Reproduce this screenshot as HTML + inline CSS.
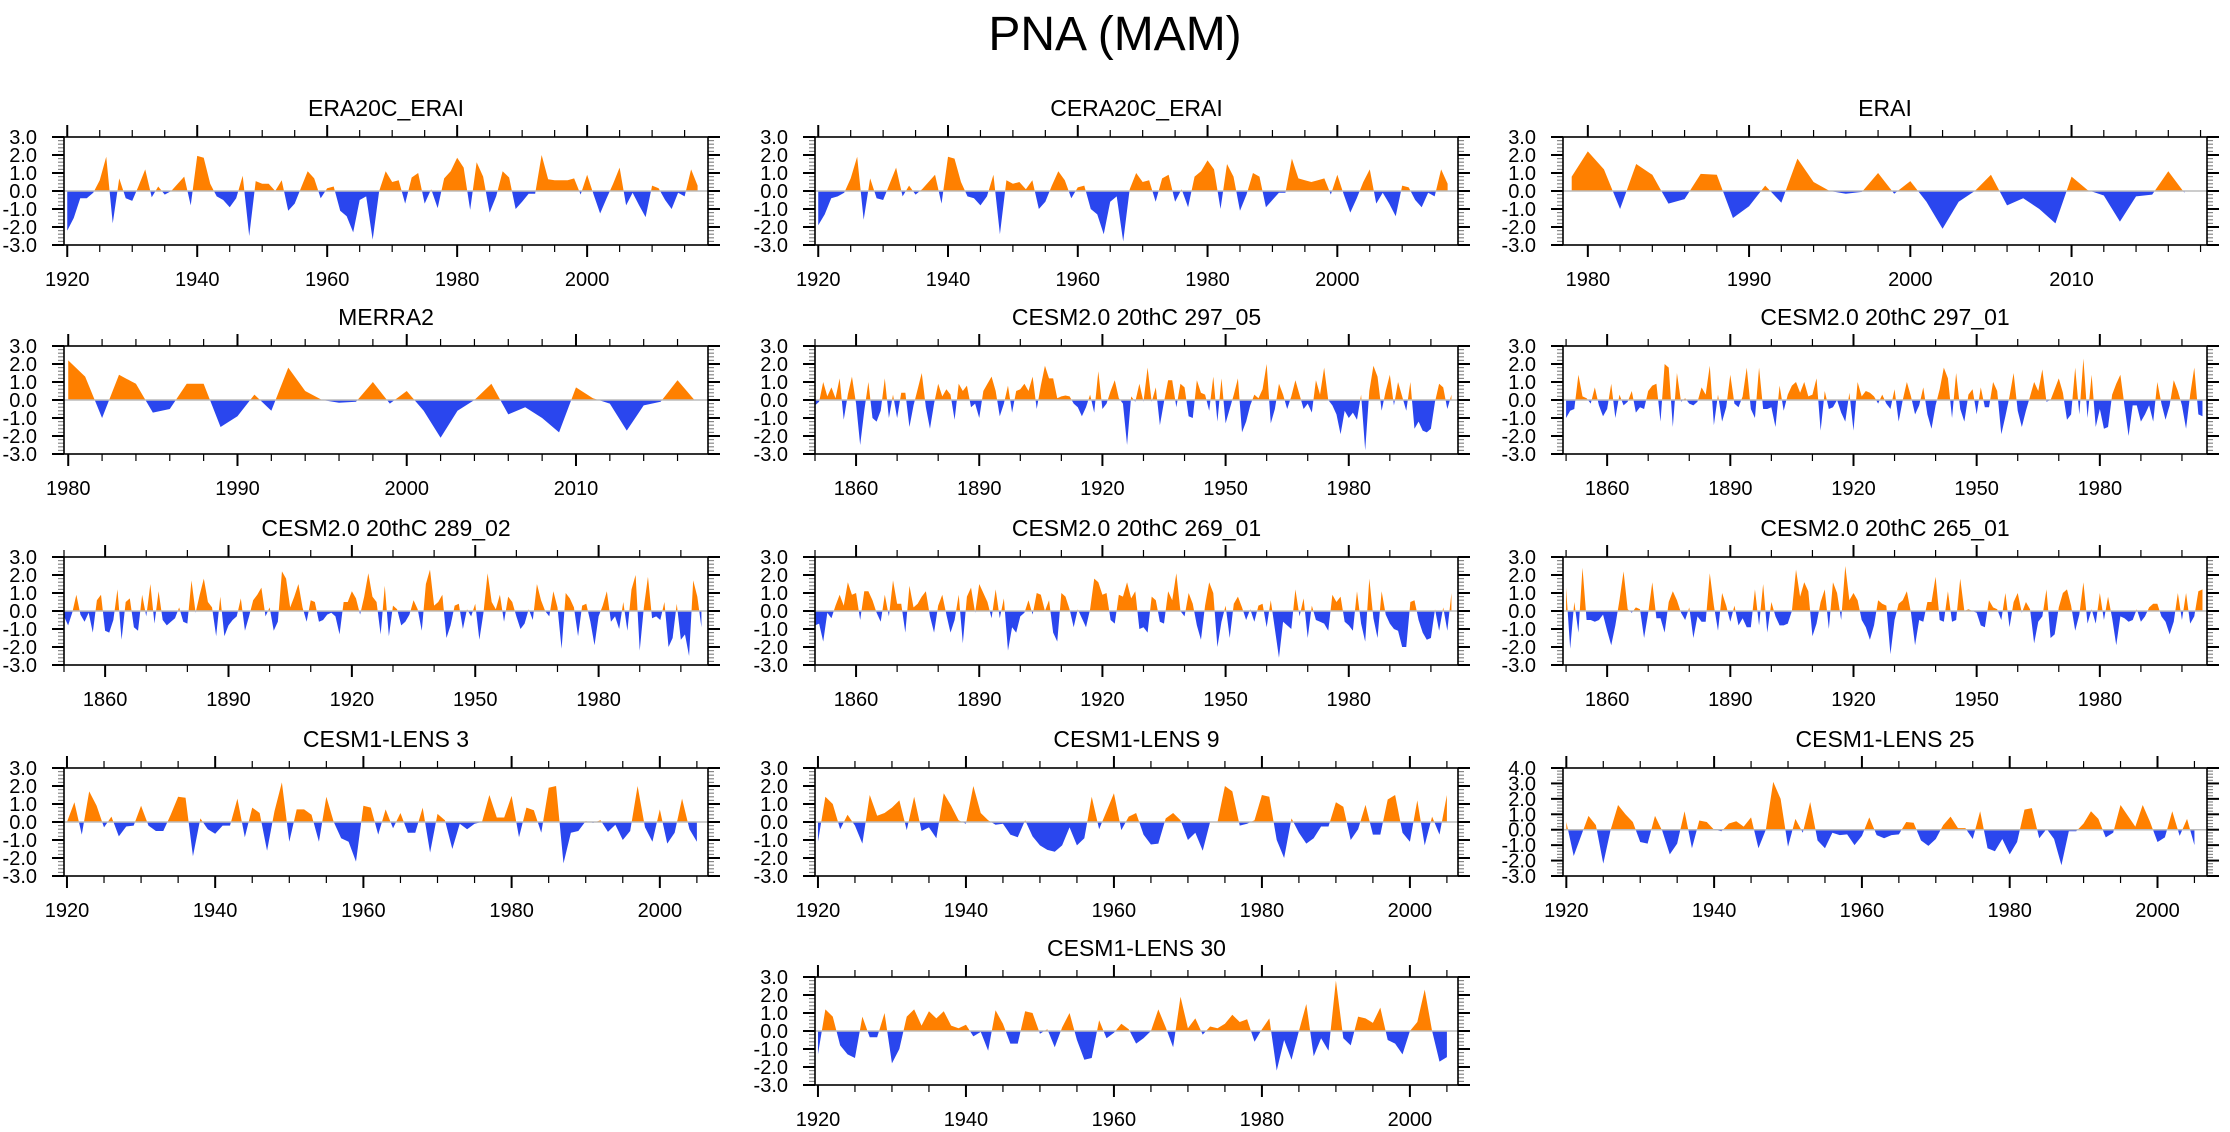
<!DOCTYPE html>
<html><head><meta charset="utf-8"><style>
html,body{margin:0;padding:0;background:#fff;}
svg{display:block;font-family:"Liberation Sans",Arial,sans-serif;}
</style></head><body>
<svg id="fig" width="2230" height="1132" viewBox="0 0 2230 1132" xmlns="http://www.w3.org/2000/svg">
<rect width="2230" height="1132" fill="#fff"/>
<text x="1115" y="50" font-size="48" text-anchor="middle">PNA (MAM)</text>
</svg>
<script>
const era20c=[-2.2,-1.5,-0.4,-0.4,-0.1,0.6,1.9,-1.8,0.7,-0.4,-0.55,0.3,1.2,-0.35,0.25,-0.2,0.0,0.4,0.8,-0.8,1.95,1.85,0.4,-0.3,-0.5,-0.9,-0.4,0.85,-2.5,0.55,0.4,0.4,0.0,0.6,-1.1,-0.7,0.2,1.1,0.7,-0.4,0.15,0.25,-1.1,-1.4,-2.3,-0.5,-0.3,-2.7,0.0,1.1,0.5,0.6,-0.7,0.75,1.0,-0.7,0.1,-0.95,0.7,1.1,1.85,1.3,-1.05,1.6,0.8,-1.2,-0.3,1.1,0.75,-1.0,-0.6,-0.15,-0.15,2.0,0.65,0.6,0.6,0.6,0.7,-0.2,0.9,-0.2,-1.25,-0.4,0.4,1.3,-0.8,-0.1,-0.8,-1.45,0.3,0.15,-0.5,-1.0,-0.1,-0.3,1.2,0.3];
const cera20c=[-1.9,-1.3,-0.4,-0.3,-0.1,0.7,1.9,-1.6,0.7,-0.4,-0.5,0.4,1.3,-0.3,0.3,-0.2,0.1,0.5,0.9,-0.7,1.9,1.8,0.5,-0.3,-0.4,-0.8,-0.3,0.9,-2.4,0.6,0.4,0.5,0.1,0.6,-1.0,-0.6,0.3,1.1,0.6,-0.4,0.2,0.3,-1.0,-1.3,-2.4,-0.6,-0.3,-2.8,0.1,1.0,0.5,0.6,-0.6,0.7,0.9,-0.6,0.1,-0.9,0.8,1.1,1.7,1.2,-1.0,1.5,0.8,-1.1,-0.2,1.0,0.8,-0.9,-0.5,-0.1,-0.1,1.8,0.7,0.6,0.5,0.6,0.7,-0.2,0.9,-0.2,-1.2,-0.4,0.5,1.2,-0.7,-0.1,-0.7,-1.4,0.3,0.2,-0.5,-0.9,-0.1,-0.3,1.2,0.4];
const erai=[0.8,2.2,1.2,-1.0,1.5,0.9,-0.7,-0.45,0.95,0.9,-1.5,-0.85,0.3,-0.65,1.8,0.5,0.0,-0.15,-0.05,1.0,-0.15,0.55,-0.6,-2.1,-0.6,0.0,0.9,-0.8,-0.4,-1.0,-1.8,0.8,0.05,-0.25,-1.7,-0.3,-0.2,1.1,-0.1];
const merra2=[2.2,1.3,-1.0,1.4,0.9,-0.7,-0.5,0.9,0.9,-1.5,-0.9,0.3,-0.6,1.8,0.5,0.0,-0.15,-0.1,1.0,-0.2,0.5,-0.6,-2.1,-0.6,0.0,0.9,-0.8,-0.4,-1.0,-1.8,0.7,0.1,-0.2,-1.7,-0.3,-0.1,1.1,0.0];
const c297_05=[-0.3,-0.1,1.0,0.2,0.7,0.1,1.2,-1.1,0.3,1.3,-0.2,-2.5,-0.6,1.0,-1.0,-1.2,-0.6,1.2,-1.0,0.3,-1.0,0.4,0.4,-1.5,-0.3,0.6,1.5,-0.4,-1.6,-0.2,0.9,0.2,0.6,0.3,-1.1,0.9,0.5,0.8,-0.4,-0.2,-1.0,0.5,0.9,1.3,0.5,-0.9,-0.2,0.8,-0.7,0.5,0.6,0.9,0.5,1.3,-0.5,0.8,1.9,1.2,1.2,0.1,0.2,0.25,0.2,-0.2,-0.4,-0.9,-0.4,0.3,-0.7,1.6,-0.5,-0.2,0.5,1.1,0.1,-0.2,-2.5,0.2,-0.1,0.9,-0.1,1.8,-0.1,0.7,-1.4,-0.1,1.1,1.1,-0.4,0.9,0.7,-0.9,-1.0,1.1,0.4,0.3,-0.6,1.3,-1.2,1.2,-1.3,-0.5,0.3,1.2,-1.8,-1.2,-0.3,0.3,0.1,0.6,2.0,-1.3,-0.5,0.9,0.3,-0.5,0.2,1.1,0.3,-0.5,-0.2,-0.7,1.1,0.3,1.8,0.0,-0.3,-0.8,-1.9,-0.6,-1.0,-0.7,-1.1,0.3,-2.8,0.5,1.9,1.3,-0.6,0.5,1.4,-0.3,1.0,0.2,-0.6,1.0,-1.6,-1.2,-1.7,-1.8,-1.6,-0.1,0.9,0.7,-0.5,0.3];
const c297_01=[-1.0,-0.6,-0.5,1.4,0.2,0.1,-0.2,0.7,-0.3,-0.9,-0.5,0.9,-1.0,0.3,-0.3,-0.1,0.5,-0.7,-0.4,-0.5,0.5,0.8,0.9,-1.2,2.0,1.8,-1.5,1.5,-0.1,0.1,-0.2,-0.3,-0.1,0.7,0.3,1.9,-1.4,0.3,-1.2,-0.4,1.4,-0.2,-0.4,0.2,1.8,-0.5,-1.0,1.8,-0.5,-0.5,-0.4,-1.5,0.8,-0.6,0.3,0.8,1.0,0.4,1.0,0.2,0.3,1.2,-1.7,0.5,-0.5,-0.4,0.0,-0.7,-1.2,0.4,-1.7,1.0,0.2,0.5,0.4,0.2,-0.2,0.3,-0.2,-0.5,0.6,-1.2,0.0,1.0,0.2,-0.8,-0.3,0.7,-0.8,-1.6,-0.3,0.6,1.8,1.2,-1.0,1.5,-0.5,-1.2,0.3,0.6,-0.8,0.7,-0.4,-0.4,1.0,0.5,-1.9,-0.9,0.2,1.5,-0.6,-1.5,-0.6,0.2,1.0,0.5,1.7,-0.1,0.0,0.6,1.2,0.4,-1.1,-0.8,1.8,-0.8,2.3,-1.0,1.4,-1.5,-0.5,-1.6,-1.5,0.3,0.9,1.4,-0.3,-2.0,-0.3,-0.3,-1.2,-0.8,-0.3,-1.2,1.0,-0.2,-1.1,-0.3,1.1,0.5,-0.3,-1.6,0.3,1.8,-0.8,-0.9];
const c289_02=[-0.3,-0.8,-0.1,0.9,-0.2,-0.6,-0.1,-1.2,0.6,0.9,-1.1,-1.2,-0.5,1.2,-1.6,0.5,0.7,-0.9,-1.1,0.9,-0.3,1.5,-0.7,1.1,-0.5,-0.8,-0.6,-0.4,0.2,-0.6,-0.7,1.7,-0.1,0.9,1.8,0.5,0.2,-1.4,0.8,-1.4,-0.8,-0.5,-0.3,0.7,-1.1,-0.3,0.6,0.9,1.3,-0.3,0.2,-1.1,-0.6,2.2,1.8,0.2,0.8,1.5,0.2,-0.6,0.6,0.5,-0.6,-0.5,-0.2,-0.1,-0.3,-1.3,0.5,0.5,1.1,0.7,-0.2,0.8,2.1,0.8,0.5,-1.3,1.4,-1.4,0.3,0.1,-0.8,-0.6,-0.2,0.6,0.1,-1.1,1.5,2.3,0.3,0.5,0.9,-1.5,-0.8,0.3,0.4,-1.0,0.1,-0.3,0.4,-1.6,-0.1,2.1,0.5,0.1,0.9,-0.6,0.8,0.5,-0.3,-1.0,-0.7,0.1,-0.5,1.5,0.6,0.0,-0.3,1.1,0.2,-2.1,1.0,0.7,0.2,-1.4,0.3,0.4,-0.6,-1.9,-0.3,0.3,1.1,-0.6,-0.3,-1.0,0.5,-1.1,1.2,2.0,-2.2,0.2,1.9,-0.4,-0.3,-0.5,0.5,-2.0,-1.5,0.4,-1.6,-1.3,-2.5,1.7,0.8,-0.9];
const c269_01=[-0.8,-0.7,-1.7,-0.1,-0.4,0.3,0.9,0.3,1.6,0.9,1.0,-0.5,1.1,1.1,0.6,-0.1,-0.6,0.9,-0.3,1.7,0.4,0.4,-1.2,1.4,0.2,0.4,0.8,1.1,-0.3,-1.2,0.3,0.9,-0.2,-1.2,-0.5,0.9,-1.8,0.8,1.3,-0.1,1.5,1.0,0.5,-0.4,1.2,-0.4,0.7,-2.2,-0.9,-1.2,-0.3,-0.1,0.6,-0.2,1.0,0.9,0.0,0.6,-1.2,-1.7,1.0,0.8,0.1,-0.9,0.1,-0.4,-0.9,0.1,1.8,1.6,0.9,1.0,-0.5,-0.7,0.9,0.8,1.6,0.7,1.1,-1.0,-0.9,-1.2,0.8,0.6,-0.6,-0.7,1.1,0.6,2.1,0.0,-0.3,1.0,0.4,-0.8,-1.6,0.3,1.6,1.0,-2.0,-0.6,0.3,-1.5,0.4,0.8,0.2,-0.5,0.1,-0.6,0.3,0.4,-0.9,0.6,-1.0,-2.6,-0.6,-0.8,-1.0,1.2,-0.3,0.7,-1.5,0.3,-0.5,-0.6,-0.7,-1.1,0.9,0.5,0.8,-0.6,-0.8,-1.1,1.1,-0.7,-1.7,1.8,-0.4,-1.5,1.1,-0.2,-0.7,-1.0,-1.1,-2.0,-2.0,0.5,0.6,-0.5,-1.2,-1.6,-1.5,0.1,-1.1,0.2,-1.1,1.0];
const c265_01=[1.3,-2.1,0.5,-1.2,2.4,-0.5,-0.5,-0.6,-0.5,-0.2,-1.1,-1.9,-0.8,0.6,2.2,0.1,-0.1,0.2,0.1,-1.5,-0.1,1.6,-0.4,-0.4,-1.2,0.5,1.1,0.6,-0.1,-0.5,0.2,-1.5,-0.3,-0.6,-0.6,2.1,0.3,-1.1,1.0,0.3,-0.6,0.3,-0.8,-0.4,-0.9,-0.9,1.2,-0.8,1.5,-1.2,0.5,-0.3,-0.8,-0.8,-0.7,0.0,2.3,0.8,1.6,1.1,-1.4,-0.7,0.5,1.2,-1.0,1.6,1.0,-0.5,2.5,0.6,1.0,0.6,-0.5,-0.9,-1.6,-0.8,0.6,0.4,0.3,-2.4,-0.5,0.4,0.6,1.1,-0.1,-1.9,-0.5,-0.6,0.5,0.5,1.9,-0.5,-0.6,1.1,-0.6,-0.5,1.8,0.0,0.1,0.0,-0.1,-0.8,-0.9,0.6,0.2,0.1,-0.5,1.0,-0.9,0.5,1.0,-0.1,0.5,0.1,-1.8,-0.6,-0.3,1.2,-1.5,-1.3,0.2,1.0,1.2,0.3,-1.1,-0.2,1.6,-0.7,0.1,-0.7,1.0,-0.5,0.8,-0.4,-1.9,-0.3,-0.4,-0.6,-0.5,0.1,-0.6,-0.3,0.2,0.4,0.4,-0.3,-0.6,-1.3,-0.6,1.0,-0.5,1.0,-0.7,-0.3,1.1,1.2];
const lens3=[0.0,1.1,-0.7,1.7,0.9,-0.3,0.3,-0.8,-0.25,-0.2,0.9,-0.2,-0.5,-0.5,0.4,1.4,1.35,-1.9,0.2,-0.4,-0.65,-0.2,-0.2,1.3,-0.85,0.8,0.5,-1.6,0.6,2.2,-1.1,0.7,0.7,0.4,-1.1,1.4,0.0,-0.9,-1.1,-2.2,0.9,0.8,-0.7,0.7,-0.35,0.5,-0.6,-0.6,0.8,-1.7,0.45,0.1,-1.5,-0.1,-0.4,-0.1,0.0,1.5,0.25,0.25,1.45,-0.85,0.8,0.65,-0.6,1.9,2.0,-2.3,-0.6,-0.5,0.05,-0.05,0.1,-0.55,-0.15,-1.0,-0.5,2.0,-0.3,-1.1,0.7,-1.2,-0.6,1.3,-0.4,-1.1];
const lens9=[-1.1,1.4,1.0,-0.4,0.4,-0.2,-1.2,1.5,0.35,0.5,0.8,1.2,-0.45,1.4,-0.5,-0.3,-0.9,1.6,0.9,0.1,-0.1,2.0,0.5,0.1,-0.15,-0.1,-0.7,-0.85,0.1,-0.8,-1.3,-1.55,-1.65,-1.3,-0.3,-1.3,-0.9,1.4,-0.4,0.6,1.6,-0.45,0.3,0.5,-0.7,-1.25,-1.2,0.2,0.5,0.1,-1.0,-0.6,-1.6,0.0,0.0,2.0,1.7,-0.2,-0.1,0.1,1.5,1.4,-1.0,-2.0,0.2,-0.6,-1.2,-0.9,-0.25,-0.25,1.1,0.85,-1.0,-0.4,0.95,-0.7,-0.7,1.25,1.5,-0.6,-1.1,1.2,-1.3,0.3,-0.7,1.5];
const lens25=[0.5,-1.7,-0.4,0.9,0.3,-2.2,0.0,1.6,1.0,0.5,-0.8,-0.9,0.9,-0.1,-1.6,-0.9,1.2,-1.2,0.6,0.5,0.0,-0.1,0.4,0.55,0.2,0.8,-1.2,0.0,3.1,2.0,-1.1,0.7,-0.2,1.8,-0.7,-1.2,-0.2,-0.35,-0.3,-1.0,-0.4,0.8,-0.35,-0.55,-0.35,-0.3,0.5,0.45,-0.7,-1.05,-0.6,0.3,0.85,0.1,0.1,-0.6,1.2,-1.2,-1.4,-0.6,-1.6,-0.8,1.3,1.4,-0.55,0.05,-0.6,-2.3,-0.1,-0.1,0.4,1.2,0.7,-0.5,-0.2,1.6,0.9,0.2,1.6,0.5,-0.8,-0.5,1.2,-0.4,0.7,-1.0];
const lens30=[-1.3,1.2,0.8,-0.8,-1.3,-1.5,0.8,-0.35,-0.35,1.0,-1.8,-1.0,0.8,1.2,0.3,1.1,0.7,1.1,0.3,0.15,0.35,-0.3,-0.05,-1.1,1.15,0.4,-0.7,-0.7,1.1,1.0,-0.15,0.1,-0.9,0.2,1.0,-0.5,-1.6,-1.5,0.6,-0.4,-0.1,0.4,0.1,-0.7,-0.4,0.0,1.2,0.2,-0.9,1.9,0.15,0.7,-0.2,0.25,0.15,0.4,0.9,0.5,0.65,-0.6,0.1,0.7,-2.2,-0.5,-1.6,0.0,1.5,-1.4,-0.4,-1.1,2.8,-0.4,-0.8,0.8,0.7,0.45,1.3,-0.5,-0.7,-1.3,0.0,0.5,2.3,0.0,-1.7,-1.45];

const ticksEra=[1920,1940,1960,1980,2000];
const ticksErai=[1980,1990,2000,2010];
const ticksCesm2=[1860,1890,1920,1950,1980];
const ticksLens=[1920,1940,1960,1980,2000];
const yTicks33=[-3,-2,-1,0,1,2,3];
const yTicks34=[-3,-2,-1,0,1,2,3,4];

const colX=[[64,708],[815,1458],[1563,2207]];
const rowY=[137,346,557,768,977];
const PH=108;

const panels=[
 {id:'era20c-erai',title:'ERA20C_ERAI',c:0,r:0,data:era20c,start:1920,xmin:1919.5,xmax:2018.6,ticks:ticksEra,minor:5,yt:yTicks33},
 {id:'cera20c-erai',title:'CERA20C_ERAI',c:1,r:0,data:cera20c,start:1920,xmin:1919.5,xmax:2018.6,ticks:ticksEra,minor:5,yt:yTicks33},
 {id:'erai',title:'ERAI',c:2,r:0,data:erai,start:1979,xmin:1978.46,xmax:2018.4,ticks:ticksErai,minor:2,yt:yTicks33},
 {id:'merra2',title:'MERRA2',c:0,r:1,data:merra2,start:1980,xmin:1979.75,xmax:2017.8,ticks:ticksErai,minor:2,yt:yTicks33},
 {id:'cesm2-297-05',title:'CESM2.0 20thC 297_05',c:1,r:1,data:c297_05,start:1850,xmin:1850,xmax:2006.6,ticks:ticksCesm2,minor:10,yt:yTicks33},
 {id:'cesm2-297-01',title:'CESM2.0 20thC 297_01',c:2,r:1,data:c297_01,start:1850,xmin:1849.25,xmax:2006.1,ticks:ticksCesm2,minor:10,yt:yTicks33},
 {id:'cesm2-289-02',title:'CESM2.0 20thC 289_02',c:0,r:2,data:c289_02,start:1850,xmin:1850,xmax:2006.6,ticks:ticksCesm2,minor:10,yt:yTicks33},
 {id:'cesm2-269-01',title:'CESM2.0 20thC 269_01',c:1,r:2,data:c269_01,start:1850,xmin:1850,xmax:2006.6,ticks:ticksCesm2,minor:10,yt:yTicks33},
 {id:'cesm2-265-01',title:'CESM2.0 20thC 265_01',c:2,r:2,data:c265_01,start:1850,xmin:1849.25,xmax:2006.1,ticks:ticksCesm2,minor:10,yt:yTicks33},
 {id:'cesm1-lens-3',title:'CESM1-LENS 3',c:0,r:3,data:lens3,start:1920,xmin:1919.6,xmax:2006.5,ticks:ticksLens,minor:5,yt:yTicks33},
 {id:'cesm1-lens-9',title:'CESM1-LENS 9',c:1,r:3,data:lens9,start:1920,xmin:1919.6,xmax:2006.5,ticks:ticksLens,minor:5,yt:yTicks33},
 {id:'cesm1-lens-25',title:'CESM1-LENS 25',c:2,r:3,data:lens25,start:1920,xmin:1919.55,xmax:2006.7,ticks:ticksLens,minor:5,yt:yTicks34},
 {id:'cesm1-lens-30',title:'CESM1-LENS 30',c:1,r:4,data:lens30,start:1920,xmin:1919.6,xmax:2006.5,ticks:ticksLens,minor:5,yt:yTicks33}
];

const NS='http://www.w3.org/2000/svg';
const svg=document.getElementById('fig');
function mk(tag,attrs,parent){const e=document.createElementNS(NS,tag);for(const k in attrs)e.setAttribute(k,attrs[k]);(parent||svg).appendChild(e);return e;}

panels.forEach(p=>{
  const x0=colX[p.c][0],x1=colX[p.c][1],y0=rowY[p.r],y1=y0+PH;
  const ymin=p.yt[0],ymax=p.yt[p.yt.length-1];
  const sx=v=>x0+(v-p.xmin)/(p.xmax-p.xmin)*(x1-x0);
  const sy=v=>y1-(v-ymin)/(ymax-ymin)*(y1-y0);
  const g=mk('g',{});
  
  
  const t=mk('text',{x:(x0+x1)/2,y:y0-21,'font-size':23,'text-anchor':'middle'},g);
  t.textContent=p.title;
  
  
  const z=sy(0);
  // clip paths
  const defs=mk('defs',{},g);
  const cu=mk('clipPath',{id:'cu-'+p.id},defs);mk('rect',{x:x0,y:y0,width:x1-x0,height:z-y0},cu);
  const cd=mk('clipPath',{id:'cd-'+p.id},defs);mk('rect',{x:x0,y:z,width:x1-x0,height:y1-z},cd);
  let d='M'+sx(p.start).toFixed(2)+','+z.toFixed(2);
  p.data.forEach((v,i)=>{d+=' L'+sx(p.start+i).toFixed(2)+','+sy(v).toFixed(2);});
  d+=' L'+sx(p.start+p.data.length-1).toFixed(2)+','+z.toFixed(2)+' Z';
  const pos=mk('path',{d:d,fill:'#ff8000','clip-path':'url(#cu-'+p.id+')'},g);
  
  
  const neg=mk('path',{d:d,fill:'#2a46ee','clip-path':'url(#cd-'+p.id+')'},g);
  
  
  const zl=mk('line',{x1:x0,x2:x1,y1:z,y2:z,stroke:'#bbbbbb','stroke-width':1.5},g);
  
  
  // ticks
  const tk=mk('g',{stroke:'#000','stroke-width':1.3},g);
  
  
  const firstMinor=Math.ceil(p.xmin/p.minor)*p.minor;
  for(let yr=firstMinor;yr<=p.xmax;yr+=p.minor){
    const X=sx(yr);const maj=p.ticks.includes(yr);const L=maj?12:7;
    mk('line',{x1:X,x2:X,y1:y0,y2:y0-L,'stroke-width':maj?2:1.2},tk);
    mk('line',{x1:X,x2:X,y1:y1,y2:y1+L,'stroke-width':maj?2:1.2},tk);
  }
  for(let k=Math.round(ymin*5);k<=Math.round(ymax*5);k++){
    const v=k/5;const Y=sy(v);const maj=(k%5===0);const L=maj?12:6;
    mk('line',{x1:x0,x2:x0-L,y1:Y,y2:Y,stroke:maj?'#000':'#888','stroke-width':maj?2:1.2},tk);
    mk('line',{x1:x1,x2:x1+L,y1:Y,y2:Y,stroke:maj?'#000':'#888','stroke-width':maj?2:1.2},tk);
  }
  const box=mk('rect',{x:x0,y:y0,width:x1-x0,height:PH,fill:'none',stroke:'#000','stroke-width':1.6},g);
  
  
  p.ticks.forEach(yr=>{
    const tx=mk('text',{x:sx(yr),y:y1+41,'font-size':20,'text-anchor':'middle'},g);
    tx.textContent=String(yr);
    
    
  });
  p.yt.forEach(v=>{
    const ty=mk('text',{x:x0-27,y:sy(v)+7,'font-size':20,'text-anchor':'end'},g);
    ty.textContent=v.toFixed(1);
    
    
  });
});
</script>
</body></html>
